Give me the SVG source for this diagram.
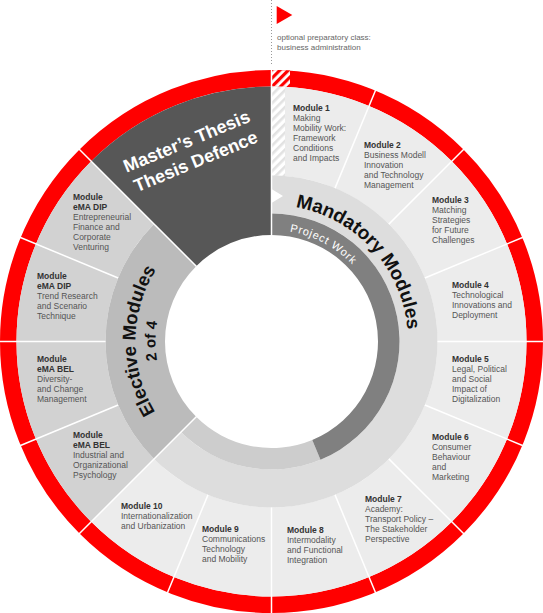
<svg xmlns="http://www.w3.org/2000/svg" width="543" height="613" viewBox="0 0 543 613">
<style>
text{font-family:"Liberation Sans",Arial,sans-serif}
.mt{font-size:8.5px;font-weight:bold;fill:#333}
.md{font-size:8.5px;fill:#555}
.mm{fill:#ececec}
.em{fill:#d2d2d2}
.sep{stroke:#fff;stroke-width:1.5}
.big{font-size:19px;font-weight:bold;fill:#111}
</style>
<defs>
<pattern id="hr" width="6" height="6" patternUnits="userSpaceOnUse" patternTransform="rotate(45)">
<rect width="6" height="6" fill="#fff"/><rect width="3.2" height="6" fill="#f00"/>
</pattern>
<pattern id="hg" width="6" height="6" patternUnits="userSpaceOnUse" patternTransform="rotate(45)">
<rect width="6" height="6" fill="#fff"/><rect width="2.6" height="6" fill="#e2e2e2"/>
</pattern>
<clipPath id="ringclip"><path d="M271.5,70 A271.5,271.5 0 1 1 271.49,70 Z M271.5,86.5 A255,255 0 1 0 271.51,86.5 Z" clip-rule="evenodd"/></clipPath>
<clipPath id="modclip"><path d="M271.5,86.5 A255,255 0 0 1 369.08,105.91 L335.03,188.14 A166,166 0 0 0 271.5,175.5 Z"/></clipPath>
<path id="pMand" d="M219.48,215.31 A136.5,136.5 0 0 1 392.47,404.74"/>
<path id="pElec" d="M224.32,469.05 A136,136 0 0 1 225.65,213.46"/>
<path id="p2of4" d="M231.26,450.30 A116,116 0 0 1 232.40,232.29"/>
<path id="pPW" d="M229.73,238.12 A111.5,111.5 0 0 1 380.56,318.32"/>
</defs>

<g id="preparatory-class">
<line x1="271.5" y1="0" x2="271.5" y2="66" stroke="#999" stroke-width="1" stroke-dasharray="1 2"/>
<polygon points="276.7,6 292.3,15 276.7,24" fill="#f00"/>
<text x="277" y="39.5" style="font-size:8px;fill:#666">optional preparatory class:</text>
<text x="277" y="49.5" style="font-size:8px;fill:#666">business administration</text>
</g>

<g id="outer-ring">
<circle cx="271.5" cy="341.5" r="263.25" fill="none" stroke="#f00" stroke-width="16.5"/>
<rect x="272" y="68" width="18" height="20" fill="url(#hr)" clip-path="url(#ringclip)"/>
</g>

<g id="module-1">
<path class="mm" d="M271.5,86.5 A255,255 0 0 1 369.08,105.91 L335.03,188.14 A166,166 0 0 0 271.5,175.5 Z"/>
<rect x="272" y="86" width="13" height="90" fill="url(#hg)" clip-path="url(#modclip)"/>
<text class="mt" x="293" y="111">Module 1</text>
<text class="md" x="293" y="121">Making</text>
<text class="md" x="293" y="131">Mobility Work:</text>
<text class="md" x="293" y="141">Framework</text>
<text class="md" x="293" y="151">Conditions</text>
<text class="md" x="293" y="161">and Impacts</text>
</g>
<g id="module-2">
<path class="mm" d="M369.08,105.91 A255,255 0 0 1 451.81,161.19 L388.88,224.12 A166,166 0 0 0 335.03,188.14 Z"/>
<text class="mt" x="364" y="148">Module 2</text>
<text class="md" x="364" y="158">Business Modell</text>
<text class="md" x="364" y="168">Innovation</text>
<text class="md" x="364" y="178">and Technology</text>
<text class="md" x="364" y="188">Management</text>
</g>
<g id="module-3">
<path class="mm" d="M451.81,161.19 A255,255 0 0 1 507.09,243.92 L424.86,277.98 A166,166 0 0 0 388.88,224.12 Z"/>
<text class="mt" x="432" y="203">Module 3</text>
<text class="md" x="432" y="213">Matching</text>
<text class="md" x="432" y="223">Strategies</text>
<text class="md" x="432" y="233">for Future</text>
<text class="md" x="432" y="243">Challenges</text>
</g>
<g id="module-4">
<path class="mm" d="M507.09,243.92 A255,255 0 0 1 526.5,341.5 L437.5,341.5 A166,166 0 0 0 424.86,277.98 Z"/>
<text class="mt" x="452" y="288">Module 4</text>
<text class="md" x="452" y="298">Technological</text>
<text class="md" x="452" y="308">Innovations and</text>
<text class="md" x="452" y="318">Deployment</text>
</g>
<g id="module-5">
<path class="mm" d="M526.5,341.5 A255,255 0 0 1 507.09,439.08 L424.86,405.03 A166,166 0 0 0 437.5,341.5 Z"/>
<text class="mt" x="452" y="362">Module 5</text>
<text class="md" x="452" y="372">Legal, Political</text>
<text class="md" x="452" y="382">and Social</text>
<text class="md" x="452" y="392">Impact of</text>
<text class="md" x="452" y="402">Digitalization</text>
</g>
<g id="module-6">
<path class="mm" d="M507.09,439.08 A255,255 0 0 1 451.81,521.81 L388.88,458.88 A166,166 0 0 0 424.86,405.03 Z"/>
<text class="mt" x="432" y="440">Module 6</text>
<text class="md" x="432" y="450">Consumer</text>
<text class="md" x="432" y="460">Behaviour</text>
<text class="md" x="432" y="470">and</text>
<text class="md" x="432" y="480">Marketing</text>
</g>
<g id="module-7">
<path class="mm" d="M451.81,521.81 A255,255 0 0 1 369.08,577.09 L335.03,494.86 A166,166 0 0 0 388.88,458.88 Z"/>
<text class="mt" x="365" y="502">Module 7</text>
<text class="md" x="365" y="512">Academy:</text>
<text class="md" x="365" y="522">Transport Policy –</text>
<text class="md" x="365" y="532">The Stakeholder</text>
<text class="md" x="365" y="542">Perspective</text>
</g>
<g id="module-8">
<path class="mm" d="M369.08,577.09 A255,255 0 0 1 271.5,596.5 L271.5,507.5 A166,166 0 0 0 335.03,494.86 Z"/>
<text class="mt" x="287" y="533">Module 8</text>
<text class="md" x="287" y="543">Intermodality</text>
<text class="md" x="287" y="553">and Functional</text>
<text class="md" x="287" y="563">Integration</text>
</g>
<g id="module-9">
<path class="mm" d="M271.5,596.5 A255,255 0 0 1 173.92,577.09 L207.97,494.86 A166,166 0 0 0 271.5,507.5 Z"/>
<text class="mt" x="202" y="532">Module 9</text>
<text class="md" x="202" y="542">Communications</text>
<text class="md" x="202" y="552">Technology</text>
<text class="md" x="202" y="562">and Mobility</text>
</g>
<g id="module-10">
<path class="mm" d="M173.92,577.09 A255,255 0 0 1 91.19,521.81 L154.12,458.88 A166,166 0 0 0 207.97,494.86 Z"/>
<text class="mt" x="121" y="509">Module 10</text>
<text class="md" x="121" y="519">Internationalization</text>
<text class="md" x="121" y="529">and Urbanization</text>
</g>

<g id="elective-bel-industrial">
<path class="em" d="M91.19,521.81 A255,255 0 0 1 35.91,439.08 L118.14,405.03 A166,166 0 0 0 154.12,458.88 Z"/>
<text class="mt" x="73" y="438">Module</text>
<text class="mt" x="73" y="448">eMA BEL</text>
<text class="md" x="73" y="458">Industrial and</text>
<text class="md" x="73" y="468">Organizational</text>
<text class="md" x="73" y="478">Psychology</text>
</g>
<g id="elective-bel-diversity">
<path class="em" d="M35.91,439.08 A255,255 0 0 1 16.5,341.5 L105.5,341.5 A166,166 0 0 0 118.14,405.03 Z"/>
<text class="mt" x="37" y="362">Module</text>
<text class="mt" x="37" y="372">eMA BEL</text>
<text class="md" x="37" y="382">Diversity-</text>
<text class="md" x="37" y="392">and Change</text>
<text class="md" x="37" y="402">Management</text>
</g>
<g id="elective-dip-trend">
<path class="em" d="M16.5,341.5 A255,255 0 0 1 35.91,243.92 L118.14,277.98 A166,166 0 0 0 105.5,341.5 Z"/>
<text class="mt" x="37" y="279">Module</text>
<text class="mt" x="37" y="289">eMA DIP</text>
<text class="md" x="37" y="299">Trend Research</text>
<text class="md" x="37" y="309">and Scenario</text>
<text class="md" x="37" y="319">Technique</text>
</g>
<g id="elective-dip-entrepreneurial">
<path class="em" d="M35.91,243.92 A255,255 0 0 1 91.19,161.19 L154.12,224.12 A166,166 0 0 0 118.14,277.98 Z"/>
<text class="mt" x="73" y="200">Module</text>
<text class="mt" x="73" y="210">eMA DIP</text>
<text class="md" x="73" y="220">Entrepreneurial</text>
<text class="md" x="73" y="230">Finance and</text>
<text class="md" x="73" y="240">Corporate</text>
<text class="md" x="73" y="250">Venturing</text>
</g>

<g id="mandatory-modules">
<path fill="#dddddd" d="M271.5,175.5 A166,166 0 1 1 154.12,458.88 L180.99,432.01 A128,128 0 1 0 271.5,213.5 L271.5,203 L283,196 L271.5,189 Z"/>
<path fill="#cdcdcd" d="M320.48,459.76 A128,128 0 0 1 180.99,432.01 L196.19,416.81 A106.5,106.5 0 0 0 312.26,439.89 Z"/>
<text class="big"><textPath href="#pMand" startOffset="50%" text-anchor="middle">Mandatory Modules</textPath></text>
</g>
<g id="project-work">
<path fill="#808080" d="M271.5,213.5 A128,128 0 0 1 320.48,459.76 L312.26,439.89 A106.5,106.5 0 0 0 271.5,235 Z"/>
<text style="font-size:11px;fill:#fff;letter-spacing:0.8px"><textPath href="#pPW" startOffset="50%" text-anchor="middle">Project Work</textPath></text>
</g>
<g id="elective-modules">
<path fill="#bbbbbb" d="M154.12,224.12 A166,166 0 0 0 154.12,458.88 L196.19,416.81 A106.5,106.5 0 0 1 196.19,266.19 Z"/>
<text class="big" style="font-size:18.5px"><textPath href="#pElec" startOffset="50%" text-anchor="middle">Elective Modules</textPath></text>
<text class="big" style="font-size:15px"><textPath href="#p2of4" startOffset="50%" text-anchor="middle">2 of 4</textPath></text>
</g>
<g id="masters-thesis">
<path fill="#575757" d="M271.5,86.5 A255,255 0 0 0 91.19,161.19 L196.19,266.19 A106.5,106.5 0 0 1 271.5,235 Z"/>
<g transform="translate(189,147) rotate(-22.5)" style="font-size:18px;font-weight:bold;fill:#fff" text-anchor="middle">
<text x="0" y="0">Master’s Thesis</text>
<text x="0.7" y="22">Thesis Defence</text>
</g>
</g>

<g id="separators" transform="translate(271.5,341.5)" class="sep">
<line x1="166" y1="0" x2="273" y2="0" transform="rotate(-67.5)"/>
<line x1="166" y1="0" x2="273" y2="0" transform="rotate(-45)"/>
<line x1="166" y1="0" x2="273" y2="0" transform="rotate(-22.5)"/>
<line x1="166" y1="0" x2="273" y2="0"/>
<line x1="166" y1="0" x2="273" y2="0" transform="rotate(22.5)"/>
<line x1="166" y1="0" x2="273" y2="0" transform="rotate(45)"/>
<line x1="166" y1="0" x2="273" y2="0" transform="rotate(67.5)"/>
<line x1="166" y1="0" x2="273" y2="0" transform="rotate(90)"/>
<line x1="166" y1="0" x2="273" y2="0" transform="rotate(112.5)"/>
<line x1="166" y1="0" x2="273" y2="0" transform="rotate(-157.5)"/>
<line x1="166" y1="0" x2="273" y2="0" transform="rotate(180)"/>
<line x1="166" y1="0" x2="273" y2="0" transform="rotate(157.5)"/>
<line x1="106" y1="0" x2="273" y2="0" transform="rotate(-135)"/>
<line x1="106" y1="0" x2="273" y2="0" transform="rotate(135)"/>
<line x1="106" y1="0" x2="273" y2="0" transform="rotate(-90)"/>
</g>
</svg>
